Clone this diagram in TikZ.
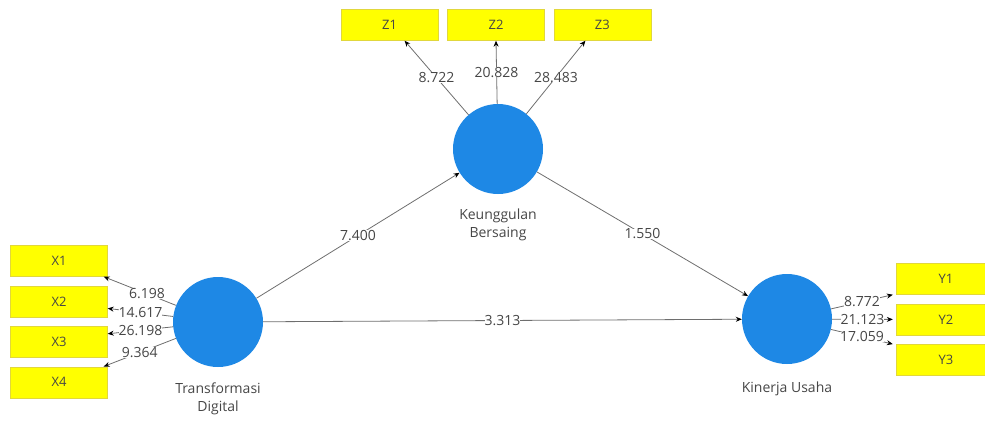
\documentclass[tikz,border=0pt]{standalone}
\usepackage{fontspec}
\setmainfont{Open Sans}
\usepackage{tikz}
\usetikzlibrary{positioning}
\usetikzlibrary{arrows.meta}

\definecolor{latentblue}{RGB}{30,136,229}
\definecolor{itemyellow}{RGB}{255,255,0}
\definecolor{itemborder}{RGB}{225,215,60}
\definecolor{textgray}{RGB}{70,70,70}
\definecolor{linegray}{RGB}{110,110,110}

\begin{document}
\begin{tikzpicture}[x=1pt, y=-1pt,
                          latent/.style={circle, fill=latentblue, minimum size=90pt, inner sep=0pt},
                          indicator/.style={rectangle, draw=itemborder, fill=itemyellow, minimum width=97pt, minimum height=31pt, inner sep=0pt, text=textgray, font=\fontsize{13}{15}\selectfont},
                          caption/.style={align=center, text=textgray, font=\fontsize{14}{18}\selectfont},
                          weight/.style={fill=white, inner sep=0pt, text=textgray, font=\fontsize{14}{15}\selectfont},
                          path/.style={draw=linegray, line width=0.8pt, -{Stealth[length=6pt, width=5pt, color=black]}},
                          node distance=9pt,
                      ]
                      \useasboundingbox (0,0) rectangle (985,421);
                      \clip (0,0) rectangle (985,421);
                      % Nodes
                      \node[latent]        (td)                            at (218,322) {};
                      \node[latent]        (kb)                            at (498,149) {};
                      \node[latent]        (ku)                            at (787,319) {};

                      \node[caption]       (td_name)    [below=12pt of td]         {Transformasi\\Digital};
                      \node[caption]       (kb_name)    [below=11pt of kb]         {Keunggulan\\Bersaing};
                      \node[caption]       (ku_name)    [below=14pt of ku]         {Kinerja Usaha};

                      \node[indicator]     (x_1)                           at (59,261)  {X1};
                      \node[indicator]     (x_2)        [below=of x_1]             {X2};
                      \node[indicator]     (x_3)        [below=of x_2]             {X3};
                      \node[indicator]     (x_4)        [below=of x_3]             {X4};

                      \node[indicator]     (z_2)                           at (496,25)  {Z2};
                      \node[indicator]     (z_1)        [left=of z_2]              {Z1};
                      \node[indicator]     (z_3)        [right=of z_2]             {Z3};

                      \node[indicator, minimum width=100pt] (y_1)          at (946,279) {Y1};
                      \node[indicator, minimum width=100pt] (y_2) [below=9pt of y_1]   {Y2};
                      \node[indicator, minimum width=100pt] (y_3) [below=9pt of y_2]   {Y3};

                      %Lines
                      \draw[path] (td) -- node[weight] {7.400} (kb);
                      \draw[path] (kb) -- node[weight] {1.550} (ku);
                      \draw[path] (td) -- node[weight] {3.313} (ku);

                      \draw[path] (td) -- node[weight, pos=0.4] {6.198} ([xshift=-4pt]x_1.south east);
                      \draw[path] (td) -- node[weight] {14.617} ([yshift=-7pt]x_2.east);
                      \draw[path] (td) -- node[weight] {26.198} ([yshift=8pt]x_3.east);
                      \draw[path] (td) -- node[weight] {9.364} ([xshift=-4pt]x_4.north east);

                      \draw[path] (kb) -- node[weight] {8.722} ([xshift=15pt]z_1.south);
                      \draw[path] (kb) -- node[weight] {20.828} (z_2.south);
                      \draw[path] (kb) -- node[weight] {28.483} ([xshift=-17pt]z_3.south);

                      \draw[path] (ku) -- node[weight] {8.772} ([xshift=-3pt]y_1.south west);
                      \draw[path] (ku) -- node[weight] {21.123} ([xshift=-3pt]y_2.west);
                      \draw[path] (ku) -- node[weight] {17.059} ([xshift=-3pt]y_3.north west);
                  \end{tikzpicture}
\end{document}
